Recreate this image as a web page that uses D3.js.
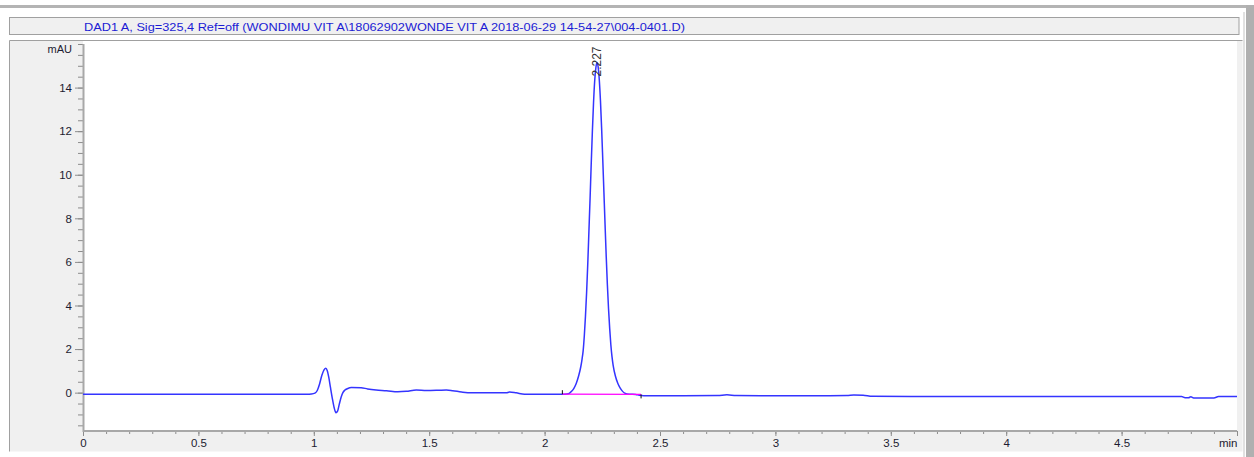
<!DOCTYPE html>
<html>
<head>
<meta charset="utf-8">
<script src="https://cdn.jsdelivr.net/npm/d3@7"></script>
<style>
  html, body { margin: 0; padding: 0; background: #ffffff; }
  svg { display: block; font-family: Arial, "Liberation Sans", sans-serif; }
</style>
</head>
<body>
<svg id="chart" width="1254" height="457"></svg>
<script>
// ---- Chromatogram data (DAD1 A, 325 nm) ----
const titleText = "DAD1 A, Sig=325,4 Ref=off (WONDIMU VIT A\\18062902WONDE VIT A 2018-06-29 14-54-27\\004-0401.D)";
const yUnitLabel = "mAU";

const xTickValues = [0, 0.5, 1, 1.5, 2, 2.5, 3, 3.5, 4, 4.5, 5];
const xTickLabels = ["0", "0.5", "1", "1.5", "2", "2.5", "3", "3.5", "4", "4.5", "min"];
const yTickValues = [0, 2, 4, 6, 8, 10, 12, 14];
const yTickLabels = ["0", "2", "4", "6", "8", "10", "12", "14"];

// retention time (min)
const timeMin = [
  0.00, 0.30, 0.60, 0.90, 0.97, 0.99, 1.005, 1.015, 1.025, 1.035,
  1.045, 1.052, 1.058, 1.065, 1.072, 1.080, 1.088, 1.096, 1.103, 1.110,
  1.118, 1.126, 1.135, 1.145, 1.163, 1.205, 1.233, 1.270, 1.315, 1.364,
  1.401, 1.444, 1.488, 1.540, 1.574, 1.602, 1.640, 1.683, 1.760, 1.834,
  1.848, 1.877, 1.913, 2.000, 2.077, 2.097, 2.107, 2.117, 2.127, 2.137,
  2.147, 2.157, 2.162, 2.167, 2.172, 2.177, 2.182, 2.187, 2.192, 2.197,
  2.202, 2.207, 2.212, 2.217, 2.222, 2.227, 2.232, 2.237, 2.242, 2.247,
  2.252, 2.257, 2.262, 2.267, 2.272, 2.277, 2.282, 2.287, 2.292, 2.297,
  2.307, 2.317, 2.327, 2.337, 2.347, 2.367, 2.395, 2.410, 2.430, 2.600,
  2.750, 2.790, 2.830, 3.000, 3.200, 3.310, 3.340, 3.380, 3.420, 3.600,
  4.000, 4.400, 4.760, 4.775, 4.790, 4.800, 4.812, 4.900, 4.920, 5.000
];
// detector signal (mAU)
const signalMAU = [
  -0.07, -0.07, -0.07, -0.07, -0.07, -0.06, -0.02, 0.10, 0.40, 0.80,
  1.06, 1.12, 1.02, 0.70, 0.25, -0.25, -0.68, -0.92, -0.85, -0.55,
  -0.22, 0.00, 0.12, 0.18, 0.24, 0.23, 0.17, 0.12, 0.09, 0.04,
  0.06, 0.12, 0.10, 0.11, 0.12, 0.09, 0.03, -0.01, -0.01, -0.01,
  0.03, -0.01, -0.07, -0.07, -0.07, -0.06, -0.03, 0.06, 0.20, 0.42,
  0.75, 1.20, 1.52, 1.92, 2.60, 3.50, 4.60, 5.90, 7.40, 8.90,
  10.50, 12.00, 13.30, 14.30, 14.90, 15.15, 14.95, 14.35, 13.40, 12.15,
  10.70, 9.20, 7.70, 6.25, 4.95, 3.85, 2.95, 2.20, 1.65, 1.25,
  0.75, 0.43, 0.22, 0.07, -0.02, -0.07, -0.08, -0.12, -0.14, -0.14,
  -0.13, -0.10, -0.13, -0.14, -0.14, -0.13, -0.11, -0.12, -0.17, -0.18,
  -0.18, -0.18, -0.18, -0.23, -0.23, -0.19, -0.24, -0.24, -0.18, -0.18
];

// integrated peak
const peakTimes = [2.227];
const peakHeights = [15.15];
const peakLabels = ["2.227"];
const baselineStartTime = 2.077, baselineStartValue = -0.07;
const baselineEndTime = 2.418, baselineEndValue = -0.08;

// ---- Layout ----
const svg = d3.select("#chart");
const plotLeft = 83, plotRight = 1237, plotTop = 44, plotBottom = 431;

const x = d3.scaleLinear().domain([0, 5]).range([plotLeft, plotRight]);
const y = d3.scaleLinear().domain([-1.76, 16]).range([plotBottom, plotTop]);

// window chrome
svg.append("rect").attr("x", 0).attr("y", 5).attr("width", 1248).attr("height", 3).attr("fill", "#b4b4b4");
svg.append("rect").attr("x", 1246).attr("y", 5).attr("width", 8).attr("height", 452).attr("fill", "#b0b0b0");
svg.append("rect").attr("x", 1243.5).attr("y", 12).attr("width", 1).attr("height", 445).attr("fill", "#c4c4c4");

// title box
svg.append("rect")
  .attr("x", 9.5).attr("y", 17.5).attr("width", 1229.5).attr("height", 17)
  .attr("fill", "#f0f0f0").attr("stroke", "#a0a0a0").attr("stroke-width", 1);
svg.append("text")
  .attr("x", 84).attr("y", 30.5)
  .attr("font-size", "11.5px")
  .attr("fill", "#1c1cd4")
  .attr("textLength", 601).attr("lengthAdjust", "spacingAndGlyphs")
  .text(titleText);

// graph panel
svg.append("rect")
  .attr("x", 9.5).attr("y", 40.5).attr("width", 1233).attr("height", 411)
  .attr("fill", "#f0f0f0").attr("stroke", "none");
svg.append("path")
  .attr("d", "M9.5,451.5 V40.5 H1242.5")
  .attr("fill", "none").attr("stroke", "#a0a0a0");
svg.append("rect")
  .attr("x", plotLeft).attr("y", 41).attr("width", plotRight - plotLeft).attr("height", plotBottom - 41)
  .attr("fill", "#ffffff");

// ---- Axes ----
const axisColor = "#a8a8a8", tickColor = "#8c8c8c", labelColor = "#1c1c30";

function styleAxis(g) {
  g.select(".domain").remove();
  g.selectAll(".tick line").attr("stroke", tickColor).attr("stroke-width", 1);
  g.selectAll(".tick text").attr("fill", labelColor).attr("font-size", "11.5px")
    .attr("font-family", "Arial, 'Liberation Sans', sans-serif");
}

// x minor ticks every 0.1 min
const xMinor = d3.range(0, 51).map(i => i / 10);
svg.append("g").attr("transform", `translate(0,${plotBottom})`)
  .call(d3.axisBottom(x).tickValues(xMinor).tickSize(3).tickFormat(""))
  .call(styleAxis);
const xAxisG = svg.append("g").attr("transform", `translate(0,${plotBottom})`)
  .call(d3.axisBottom(x).tickValues(xTickValues).tickSize(5).tickPadding(3)
    .tickFormat((d, i) => xTickLabels[i]))
  .call(styleAxis);
xAxisG.selectAll(".tick text").filter((d, i) => i === xTickValues.length - 1)
  .attr("text-anchor", "end");

// y minor ticks every 0.5 mAU
const yMinor = d3.range(-3, 33).map(i => i / 2);
svg.append("g").attr("transform", `translate(${plotLeft},0)`)
  .call(d3.axisLeft(y).tickValues(yMinor).tickSize(5).tickFormat(""))
  .call(styleAxis);
svg.append("g").attr("transform", `translate(${plotLeft},0)`)
  .call(d3.axisLeft(y).tickValues(yTickValues).tickSize(8).tickPadding(3)
    .tickFormat((d, i) => yTickLabels[i]))
  .call(styleAxis);

// axis lines
svg.append("line").attr("x1", plotLeft + 0.5).attr("x2", plotLeft + 0.5)
  .attr("y1", plotTop).attr("y2", plotBottom + 1)
  .attr("stroke", axisColor).attr("stroke-width", 2);
svg.append("line").attr("x1", plotLeft).attr("x2", plotRight)
  .attr("y1", plotBottom).attr("y2", plotBottom)
  .attr("stroke", axisColor).attr("stroke-width", 2);

svg.append("text")
  .attr("x", 72).attr("y", 53)
  .attr("text-anchor", "end")
  .attr("font-size", "11px").attr("fill", labelColor)
  .text(yUnitLabel);

// ---- Trace ----
svg.append("clipPath").attr("id", "plot-clip")
  .append("rect").attr("x", plotLeft).attr("y", 41)
  .attr("width", plotRight - plotLeft).attr("height", plotBottom - 41);

const points = timeMin.map((t, i) => [t, signalMAU[i]]);
const line = d3.line().x(d => x(d[0])).y(d => y(d[1])).curve(d3.curveMonotoneX);

svg.append("path")
  .datum(points)
  .attr("clip-path", "url(#plot-clip)")
  .attr("d", line)
  .attr("fill", "none")
  .attr("stroke", "#3434ff")
  .attr("stroke-width", 1.5)
  .attr("stroke-linejoin", "round");

// integration baseline and its start/end markers
svg.append("line")
  .attr("x1", x(baselineStartTime)).attr("y1", y(baselineStartValue))
  .attr("x2", x(baselineEndTime)).attr("y2", y(baselineEndValue))
  .attr("stroke", "#ff00ff").attr("stroke-width", 1.4);
svg.append("line")
  .attr("x1", x(baselineStartTime)).attr("x2", x(baselineStartTime))
  .attr("y1", y(baselineStartValue) - 4).attr("y2", y(baselineStartValue))
  .attr("stroke", "#111").attr("stroke-width", 1);
svg.append("line")
  .attr("x1", x(baselineEndTime)).attr("x2", x(baselineEndTime))
  .attr("y1", y(baselineEndValue)).attr("y2", y(baselineEndValue) + 4)
  .attr("stroke", "#111").attr("stroke-width", 1);

// retention time label, written upward over the apex
peakTimes.forEach((t, i) => {
  const px = x(t) + 4, py = y(peakHeights[i]) + 14;
  svg.append("text")
    .attr("transform", `translate(${px},${py}) rotate(-90)`)
    .attr("font-size", "12px")
    .attr("fill", "#333333")
    .text(peakLabels[i]);
});
</script>
</body>
</html>
